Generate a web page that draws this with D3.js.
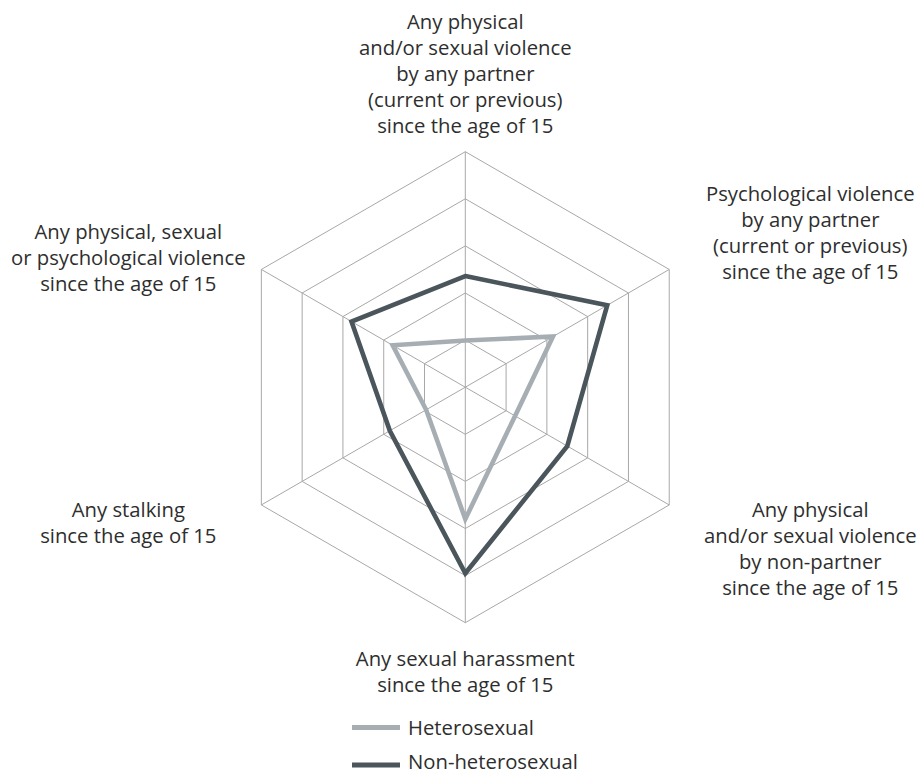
<!DOCTYPE html>
<html>
<head>
<meta charset="utf-8">
<script src="https://cdn.jsdelivr.net/npm/d3@7"></script>
<style>
  html, body { margin: 0; padding: 0; background: #ffffff; }
  svg text { font-family: "Open Sans", "Noto Sans", sans-serif; fill: #2e2e2e; }
</style>
</head>
<body>
<svg id="chart" width="918" height="775"></svg>
<script>
// Axis categories, clockwise from the top
const categories = [
  ["Any physical", "and/or sexual violence", "by any partner", "(current or previous)", "since the age of 15"],
  ["Psychological violence", "by any partner", "(current or previous)", "since the age of 15"],
  ["Any physical", "and/or sexual violence", "by non-partner", "since the age of 15"],
  ["Any sexual harassment", "since the age of 15"],
  ["Any stalking", "since the age of 15"],
  ["Any physical, sexual", "or psychological violence", "since the age of 15"]
];

// Prevalence (%) per axis, same order as categories
const heterosexual    = [9.9, 21.5, 12.2, 28.0, 9.6, 17.8];
const nonHeterosexual = [23.6, 34.8, 25.0, 39.5, 18.5, 27.9];

const seriesNames = ["Heterosexual", "Non-heterosexual"];
const ringTicks = [10, 20, 30, 40, 50];

// Layout
const width = 918, height = 775;
const cx = 465.3, cy = 387.2, R = 235.5;
const lineH = 26;
const fontSize = 20.3;
const colors = ["#a6aeb4", "#4a555c"];
// label block anchor: [x offset from centre, first baseline offset from centre]
const labelAnchor = [
  [0, -358],
  [345, -186],
  [345, 130],
  [0, 279],
  [-337, 130],
  [-337, -148]
];
// legend rows: swatch y and text baseline y
const legendRows = [[727.5, 734.5], [765, 769.2]];

const svg = d3.select("#chart");
const g = svg.append("g").attr("transform", `translate(${cx},${cy})`);

const r = d3.scaleLinear().domain([0, 50]).range([0, R]);
const angle = i => i * Math.PI / 3;
const n = categories.length;

// grid rings
const ringLine = d3.lineRadial()
  .angle((d, i) => angle(i))
  .radius(d => r(d))
  .curve(d3.curveLinearClosed);

g.append("g").selectAll("path")
  .data(ringTicks)
  .join("path")
  .attr("d", t => ringLine(d3.range(n).map(() => t)))
  .attr("fill", "none")
  .attr("stroke", "#a8a8a8")
  .attr("stroke-width", 1);

// spokes
g.append("g").selectAll("line")
  .data(d3.range(n))
  .join("line")
  .attr("x1", 0).attr("y1", 0)
  .attr("x2", i => r(50) * Math.sin(angle(i)))
  .attr("y2", i => -r(50) * Math.cos(angle(i)))
  .attr("stroke", "#a8a8a8")
  .attr("stroke-width", 1);

// series
const seriesLine = d3.lineRadial()
  .angle((d, i) => angle(i))
  .radius(d => r(d))
  .curve(d3.curveLinearClosed);

g.append("g").selectAll("path")
  .data([heterosexual, nonHeterosexual])
  .join("path")
  .attr("d", d => seriesLine(d))
  .attr("fill", "none")
  .attr("stroke", (d, i) => colors[i])
  .attr("stroke-width", 4.6)
  .attr("stroke-linejoin", "miter");

// axis labels
categories.forEach((lines, i) => {
  const [ax, ay] = labelAnchor[i];
  const t = g.append("text")
    .attr("text-anchor", "middle")
    .attr("font-size", fontSize);
  lines.forEach((s, k) => {
    t.append("tspan")
      .attr("x", ax)
      .attr("y", ay + k * lineH)
      .text(s);
  });
});

// legend
const legend = svg.append("g").attr("transform", "translate(352,0)");
seriesNames.forEach((name, i) => {
  const [sy, ty] = legendRows[i];
  legend.append("line")
    .attr("x1", 0).attr("x2", 48)
    .attr("y1", sy).attr("y2", sy)
    .attr("stroke", colors[i])
    .attr("stroke-width", 5);
  legend.append("text")
    .attr("x", 56)
    .attr("y", ty)
    .attr("font-size", fontSize)
    .text(name);
});
</script>
</body>
</html>
